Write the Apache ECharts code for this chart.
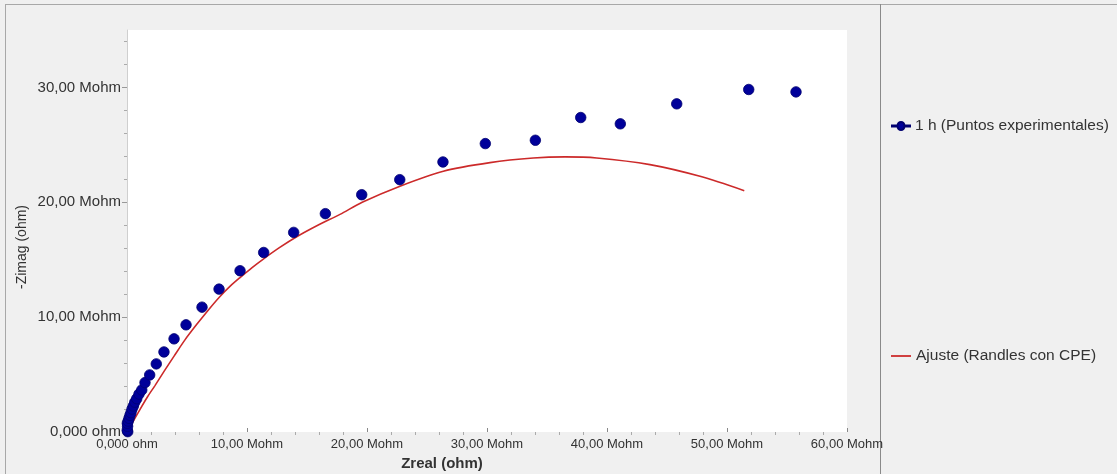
<!DOCTYPE html>
<html>
<head>
<meta charset="utf-8">
<script src="https://cdn.jsdelivr.net/npm/echarts@6/dist/echarts.min.js"></script>
<style>
html,body{margin:0;padding:0;background:#f0f0f0;}
#chart{width:1117px;height:474px;}
</style>
</head>
<body>
<div id="chart"></div>
<script>
// Experimental points: Zreal (Mohm), -Zimag (Mohm)
const expZreal = [0.06, 0.02, 0.05, 0.03, 0.10, 0.17, 0.25, 0.33, 0.42, 0.53, 0.65, 0.81, 1.00, 1.23, 1.50, 1.89, 2.44, 3.08, 3.92, 4.92, 6.25, 7.67, 9.42, 11.39, 13.89, 16.53, 19.56, 22.73, 26.33, 29.86, 34.03, 37.81, 41.11, 45.81, 51.81, 55.75];
const expZimag = [0.03, 0.15, 0.50, 0.76, 0.95, 1.19, 1.45, 1.68, 2.00, 2.27, 2.60, 2.90, 3.30, 3.66, 4.30, 4.97, 5.93, 6.97, 8.11, 9.33, 10.87, 12.44, 14.04, 15.63, 17.38, 19.01, 20.66, 21.97, 23.51, 25.11, 25.40, 27.38, 26.83, 28.57, 29.82, 29.61];
// Fit curve (Randles con CPE)
const fitZreal = [0.05, 0.50, 1.10, 1.70, 2.33, 3.10, 3.95, 4.83, 5.80, 6.80, 7.75, 8.60, 9.42, 10.40, 11.36, 12.70, 14.14, 15.90, 17.75, 19.60, 22.75, 26.36, 30.25, 33.86, 36.50, 39.14, 43.58, 47.75, 51.44];
const fitZimag = [0.00, 0.90, 2.00, 3.05, 4.04, 5.30, 6.65, 8.02, 9.35, 10.65, 11.80, 12.70, 13.45, 14.30, 15.06, 16.05, 17.00, 18.00, 18.95, 20.00, 21.40, 22.70, 23.45, 23.85, 23.95, 23.86, 23.28, 22.26, 21.01];
// Axis ticks
const xTickValues = [0, 10, 20, 30, 40, 50, 60];
const xTickLabels = ['0,000 ohm', '10,00 Mohm', '20,00 Mohm', '30,00 Mohm', '40,00 Mohm', '50,00 Mohm', '60,00 Mohm'];
const yTickValues = [0, 10, 20, 30];
const yTickLabels = ['0,000 ohm', '10,00 Mohm', '20,00 Mohm', '30,00 Mohm'];
const xMinorTicks = [2,4,6,8,12,14,16,18,22,24,26,28,32,34,36,38,42,44,46,48,52,54,56,58];
const yMinorTicks = [2,4,6,8,12,14,16,18,22,24,26,28,32,34];
const seriesNames = ['1 h (Puntos experimentales)', 'Ajuste (Randles con CPE)'];

const expData = expZreal.map((x, i) => [x, expZimag[i]]);
const fitData = fitZreal.map((x, i) => [x, fitZimag[i]]);
const FONT = "'Liberation Sans', Arial, sans-serif";
const TXT = '#333333';

function labelFor(values, labels) {
  return v => { const i = values.indexOf(Math.round(v * 1000) / 1000); return i >= 0 ? labels[i] : ''; };
}

const chart = echarts.init(document.getElementById('chart'), null, {renderer: 'canvas'});
chart.setOption({
  backgroundColor: '#f0f0f0',
  animation: false,
  graphic: [
    {type: 'line', shape: {x1: 5, y1: 4.5, x2: 1117, y2: 4.5}, style: {stroke: '#a8a8a8', lineWidth: 1}, silent: true},
    {type: 'line', shape: {x1: 5.5, y1: 4, x2: 5.5, y2: 474}, style: {stroke: '#a8a8a8', lineWidth: 1}, silent: true},
    {type: 'line', shape: {x1: 880.5, y1: 4, x2: 880.5, y2: 474}, style: {stroke: '#8a8a8a', lineWidth: 1}, silent: true}
  ],
  grid: {left: 127, top: 30, right: 270, bottom: 42, show: true, backgroundColor: '#ffffff', borderWidth: 0, containLabel: false, outerBoundsMode: 'none'},
  legend: [
    {
      left: 886, top: 113, orient: 'vertical', itemWidth: 18, itemHeight: 10, itemGap: 6,
      textStyle: {fontFamily: FONT, fontSize: 15.5, color: TXT},
      data: [{name: seriesNames[0], icon: 'path://M0,4.4 H6.2 A3.8,3.8 0 1,1 13.8,4.4 H20 V5.6 H13.8 A3.8,3.8 0 1,1 6.2,5.6 H0 Z', itemStyle: {color: '#00009a'}}]
    },
    {
      left: 886, top: 343, orient: 'vertical', itemWidth: 20, itemHeight: 2, itemGap: 6,
      textStyle: {fontFamily: FONT, fontSize: 15.5, color: TXT},
      data: [{name: seriesNames[1], icon: 'rect', itemStyle: {color: '#d04040'}}]
    }
  ],
  xAxis: [
    {
      type: 'value', min: 0, max: 60, interval: 10, position: 'bottom',
      name: 'Zreal (ohm)', nameLocation: 'middle', nameGap: 24,
      nameTextStyle: {fontFamily: FONT, fontSize: 15, fontWeight: 'bold', color: TXT, padding: [0, 90, 0, 0]},
      axisLine: {show: false},
      axisTick: {show: true, inside: true, length: 4, lineStyle: {color: '#888888'}, customValues: xTickValues},
      axisLabel: {fontFamily: FONT, fontSize: 13, color: TXT, margin: 6, customValues: xTickValues, formatter: labelFor(xTickValues, xTickLabels)},
      splitLine: {show: false}
    },
    {
      type: 'value', min: 0, max: 60, position: 'bottom', offset: 0,
      axisLine: {show: false},
      axisTick: {show: true, inside: false, length: 3, lineStyle: {color: '#aaaaaa'}, customValues: xMinorTicks},
      axisLabel: {show: false},
      splitLine: {show: false}
    }
  ],
  yAxis: [
    {
      type: 'value', min: 0, max: 35, position: 'left',
      name: '-Zimag (ohm)', nameLocation: 'middle', nameGap: 98, nameRotate: 90, nameMoveOverlap: false,
      nameTextStyle: {fontFamily: FONT, fontSize: 14, color: TXT, padding: [0, 32, 0, 0]},
      axisLine: {show: true, lineStyle: {color: '#cfcfcf', width: 1}},
      axisTick: {show: true, inside: false, length: 5, lineStyle: {color: '#999999'}, customValues: yTickValues},
      axisLabel: {fontFamily: FONT, fontSize: 15, color: TXT, margin: 6, customValues: yTickValues, formatter: labelFor(yTickValues, yTickLabels)},
      splitLine: {show: false}
    },
    {
      type: 'value', min: 0, max: 35, position: 'left', offset: 0,
      axisLine: {show: false},
      axisTick: {show: true, inside: false, length: 3, lineStyle: {color: '#aaaaaa'}, customValues: yMinorTicks},
      axisLabel: {show: false},
      splitLine: {show: false}
    }
  ],
  series: [
    {
      name: seriesNames[1], type: 'line', data: fitData, smooth: 0.3, showSymbol: false, symbol: 'none',
      lineStyle: {color: '#cc2a2a', width: 1.6}, itemStyle: {color: '#d04040'}, z: 2
    },
    {
      name: seriesNames[0], type: 'scatter', data: expData, symbol: 'circle', symbolSize: 10.5,
      itemStyle: {color: '#00009a', borderColor: '#000070', borderWidth: 0.8, opacity: 1}, z: 3
    }
  ]
});
</script>
</body>
</html>
